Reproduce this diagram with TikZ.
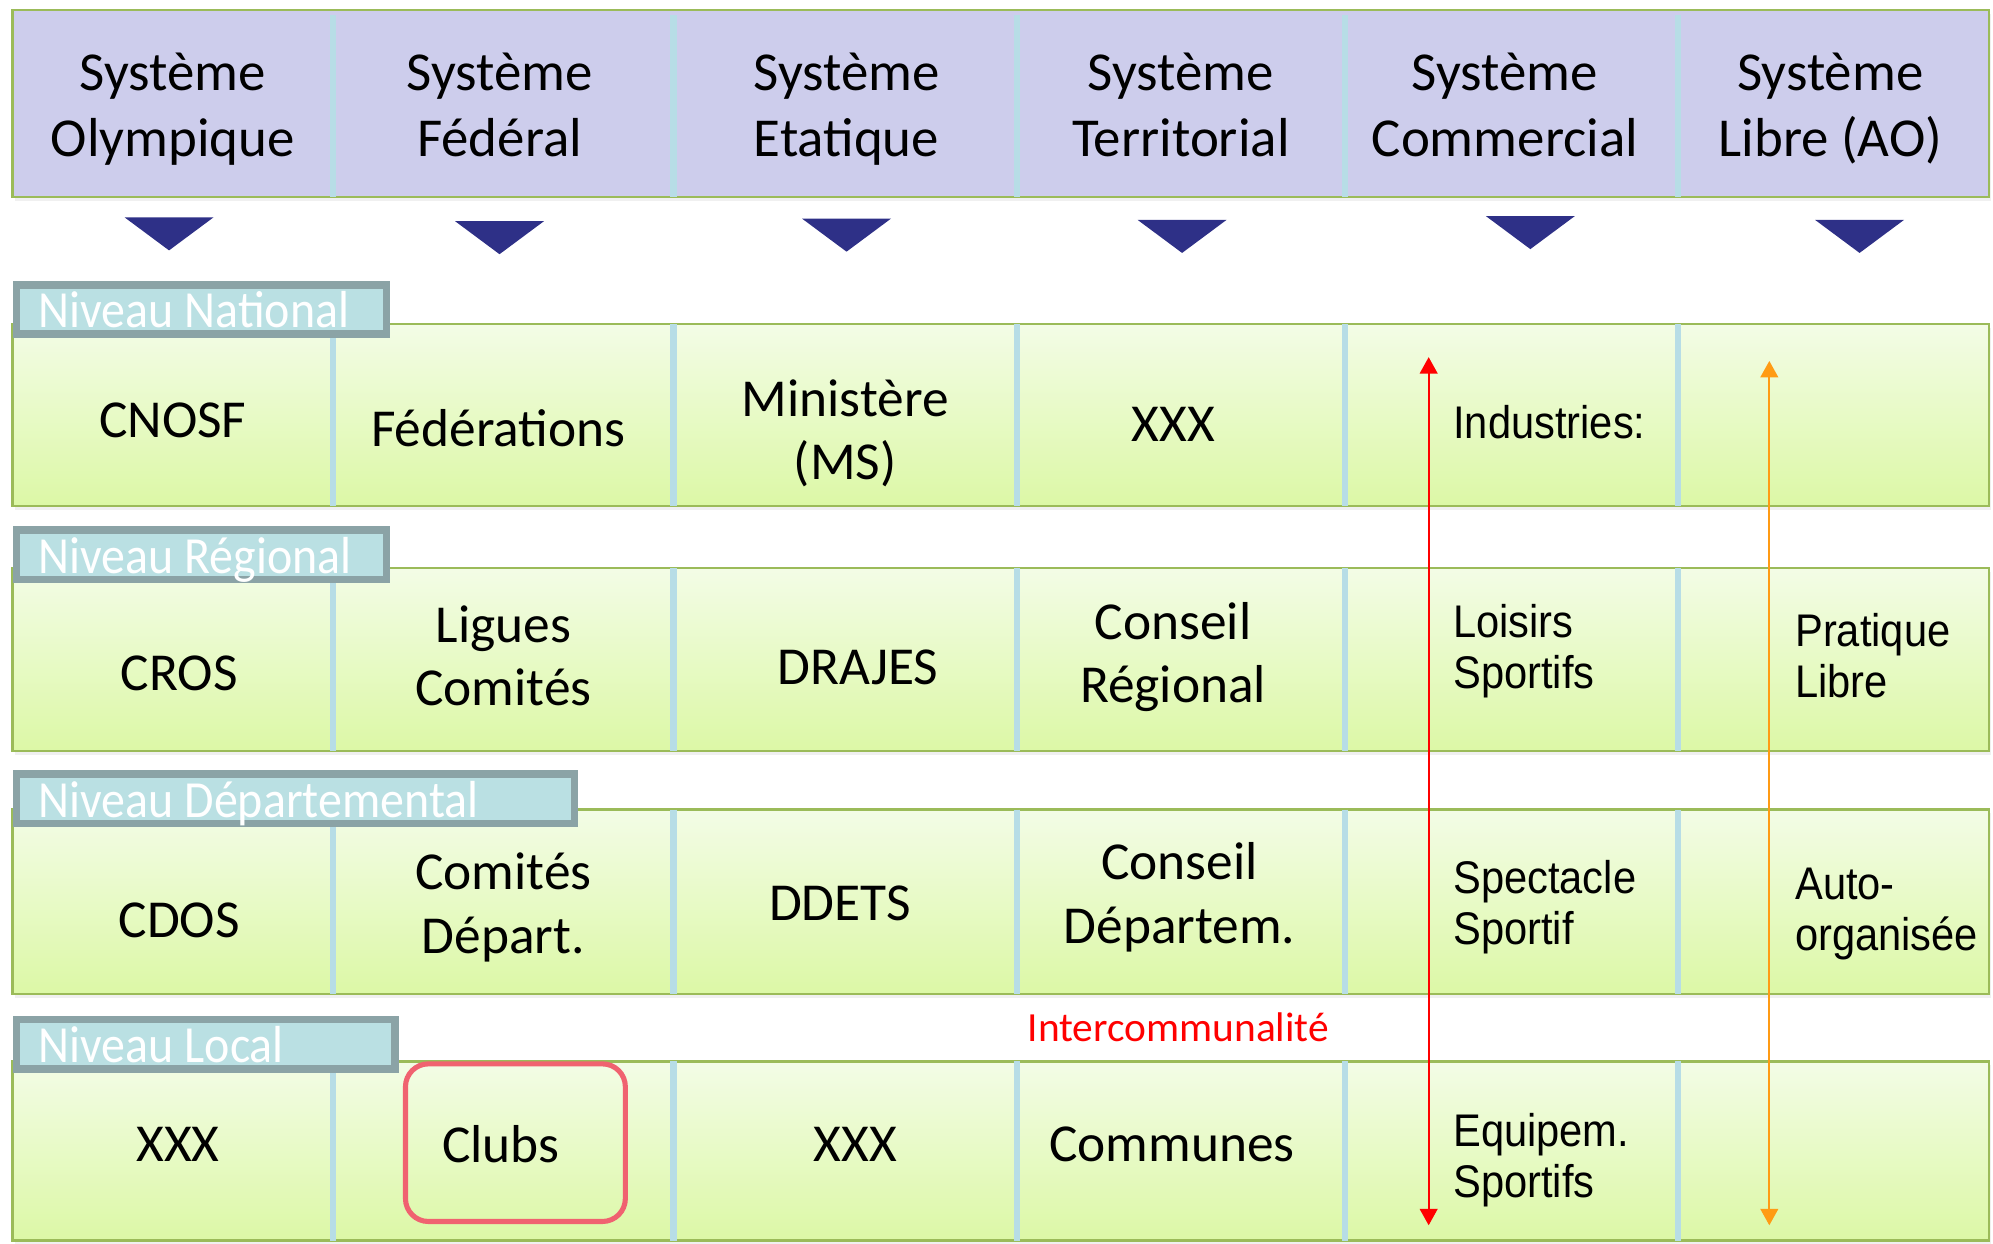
\documentclass[tikz,border=0pt]{standalone}
\usepackage{fontspec}
\setmainfont{Carlito}
\newfontfamily\tagfont[FakeStretch=0.92]{Carlito}
\newfontfamily\narrowfont[FakeStretch=0.91]{Liberation Sans}
\usetikzlibrary{arrows.meta,shadows}

\definecolor{headfill}{RGB}{205,205,236}
\definecolor{frame}{RGB}{155,187,89}
\definecolor{divider}{RGB}{183,221,230}
\definecolor{rowtop}{RGB}{243,252,230}
\definecolor{rowbot}{RGB}{220,248,166}
\definecolor{tagline}{RGB}{139,163,166}
\definecolor{tagfill}{RGB}{186,224,227}
\definecolor{navy}{RGB}{46,48,135}
\definecolor{freeorange}{RGB}{255,155,20}
\definecolor{clubred}{RGB}{240,98,112}

\tikzset{
  headbox/.style={fill=headfill, draw=frame, line width=1pt,
    drop shadow={opacity=0.12, shadow xshift=0.8pt, shadow yshift=-1.5pt}},
  rowbox/.style={top color=rowtop, bottom color=rowbot, draw=frame, line width=1pt,
    drop shadow={opacity=0.12, shadow xshift=0.8pt, shadow yshift=-1.5pt}},
  divline/.style={draw=divider, line width=2.5pt},
  leveltag/.style={fill=tagfill, draw=tagline, line width=3pt},
  tagtext/.style={anchor=base west, inner sep=0pt, text=white, font=\tagfont\fontsize{20.5}{24}\selectfont},
  headtext/.style={align=center, inner sep=0pt, font=\fontsize{21.6}{26}\selectfont},
  celltext/.style={align=center, inner sep=0pt, font=\fontsize{21}{25}\selectfont},
  sidetext/.style={anchor=west, align=left, inner sep=0pt, font=\narrowfont\fontsize{18}{20}\selectfont},
  updown/.style={{Triangle[length=6.5pt,width=7pt]}-{Triangle[length=6.5pt,width=7pt]}, line width=0.8pt},
  clubbox/.style={draw=clubred, line width=2pt, rounded corners=9pt},
}

\begin{document}
\begin{tikzpicture}[x=0.5pt,y=-0.5pt]
  \useasboundingbox (0,0) rectangle (1568,978);

  % header row and the four levels
  \draw[headbox] (10,8) rectangle (1565,155);
  \foreach \ya/\yb in {255/398,447/591,637/782,835/976}
    \draw[rowbox] (10,\ya) rectangle (1565,\yb);
  \foreach \x in {262,530,800,1058,1320}
    \foreach \ya/\yb in {12/155,255/398,447/591,637/782,835/976}
      \draw[divline] (\x,\ya) -- (\x,\yb);

  % level tags
  \foreach \ya/\xb/\t [count=\i] in {221/307/National,414/307/Régional,606/455/Départemental,799/314/Local} {
    \draw[leveltag] (13,\ya+3) rectangle (\xb-3,\ya+42);
    \node[tagtext] (tag\i) at (30,\ya+37) {Niveau \t};
  }

  % triangles under the systems
  \foreach \x/\y in {133/171,393/174,666/172,930/173,1204/170,1463/173}
    \fill[navy] (\x-35,\y) -- (\x+35,\y) -- (\x,\y+26) -- cycle;

  % systems
  \foreach \x/\t [count=\i] in {136/{Olympique},393/{Fédéral},666/{Etatique},929/{Territorial},1184/{Commercial},1440/{Libre (AO)}}
    \node[headtext] (sys\i) at (\x,87) {\strut Système\\\strut\t};

  % national
  \node[celltext] (cnosf) at (136,331) {CNOSF};
  \node[celltext] (federations) at (392,337) {Fédérations};
  \node[celltext] (ministere) at (665,341) {Ministère\\(MS)};
  \node[celltext] (natxxx) at (923,334) {XXX};
  \node[sidetext] (industries) at (1143,332) {Industries:};

  % regional
  \node[celltext] (cros) at (141,530) {CROS};
  \node[celltext] (ligues) at (396,516) {Ligues\\Comités};
  \node[celltext] (drajes) at (675,525) {DRAJES};
  \node[celltext] (conseilreg) at (923,517) {Conseil\\Régional};
  \node[sidetext] (loisirs) at (1143,512) {Loisirs\\Sportifs};
  \node[sidetext] (pratique) at (1412,516) {Pratique\\Libre};

  % departemental
  \node[celltext] (cdos) at (141,724) {CDOS};
  \node[celltext] (comitesdep) at (396,714) {Comités\\Départ.};
  \node[celltext] (ddets) at (661,711) {DDETS};
  \node[celltext] (conseildep) at (928,706) {Conseil\\Départem.};
  \node[sidetext] (spectacle) at (1143,714) {Spectacle\\Sportif};
  \node[sidetext] (autoorg) at (1412,719) {Auto-\\organisée};

  % local
  \node[celltext] (locxxx) at (140,900) {XXX};
  \node[celltext] (clubs) at (394,900) {Clubs};
  \node[celltext] (etatxxx) at (673,900) {XXX};
  \node[celltext] (communes) at (922,900) {Communes};
  \node[sidetext] (equipem) at (1143,913) {Equipem.\\Sportifs};
  \draw[clubbox] (319,837) rectangle (492,961);

  \node[text=red, inner sep=0pt, font=\fontsize{16.3}{18}\selectfont] (interco) at (927,808) {Intercommunalité};

  % commercial and free practice arrows
  \coordinate (comtop) at (1124,281);
  \coordinate (combot) at (1124,964);
  \coordinate (libtop) at (1392,284);
  \coordinate (libbot) at (1392,964);
  \draw[updown, red] (comtop) -- (combot);
  \draw[updown, freeorange] (libtop) -- (libbot);
\end{tikzpicture}
\end{document}
